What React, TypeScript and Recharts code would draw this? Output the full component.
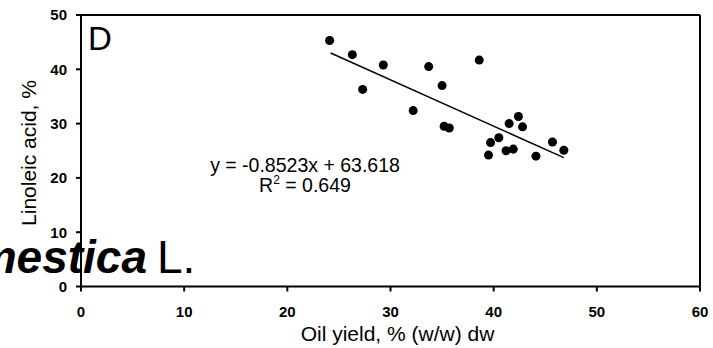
import { ScatterChart, Scatter, XAxis, YAxis, ReferenceLine, Customized } from 'recharts'

// oil yield (x) vs linoleic acid (y)
const oilYield = [24.1, 26.3, 29.3, 27.3, 33.7, 35.0, 32.2, 35.2, 35.7, 38.6, 42.4, 41.5, 42.8, 40.5, 39.7, 39.5, 41.2, 41.9, 44.1, 45.7, 46.8]
const linoleic = [45.3, 42.7, 40.8, 36.3, 40.5, 37.0, 32.4, 29.5, 29.2, 41.7, 31.3, 30.0, 29.4, 27.4, 26.5, 24.2, 25.0, 25.3, 24.0, 26.6, 25.1]

const xTicks = [0, 10, 20, 30, 40, 50, 60]
const yTicks = [0, 10, 20, 30, 40, 50]

const slope = -0.8523
const intercept = 63.618
const fitRange = [24.2, 46.8]

const points = oilYield.map((x, i) => ({ x, y: linoleic[i] }))
const fitLine = fitRange.map((x) => ({ x, y: slope * x + intercept }))

const font = "'Liberation Sans', Arial, sans-serif"
const tickStyle = { fill: '#000', fontSize: 15, fontWeight: 'bold', fontFamily: font }

function Annotations() {
  return (
    <g fontFamily={font} fill="#000">
      <text x={88} y={49.5} fontSize={33}>D</text>
      <text x={305} y={171.7} fontSize={19.5} textAnchor="middle">y = -0.8523x + 63.618</text>
      <text x={305} y={191.7} fontSize={19.5} textAnchor="middle">
        R<tspan dy={-8} fontSize={12}>2</tspan>
        <tspan dy={8}> = 0.649</tspan>
      </text>
      <text x={397.5} y={340.7} fontSize={21} textAnchor="middle">Oil yield, % (w/w) dw</text>
      <text
        transform="translate(36,153) rotate(-90)"
        fontSize={21}
        textAnchor="middle"
      >
        Linoleic acid, %
      </text>
      <text x={147} y={272.7} fontSize={46} fontWeight="bold" fontStyle="italic" textAnchor="end">
        Malus domestica
      </text>
      <text x={157} y={272.7} fontSize={46}>L.</text>
    </g>
  )
}

export default function App() {
  return (
    <div style={{ width: 713, height: 348, background: '#fff' }}>
      <style>{'body{margin:0}'}</style>
      <ScatterChart width={713} height={348} margin={{ top: 15, right: 13, left: 0, bottom: 0 }}>
        <XAxis
          type="number"
          dataKey="x"
          domain={[0, 60]}
          ticks={xTicks}
          height={61.5}
          axisLine={{ stroke: '#000', strokeWidth: 2 }}
          tickLine={{ stroke: '#000', strokeWidth: 2 }}
          tickSize={5}
          tickMargin={14.5}
          tick={tickStyle}
        />
        <YAxis
          type="number"
          dataKey="y"
          domain={[0, 50]}
          ticks={yTicks}
          width={81}
          axisLine={{ stroke: '#000', strokeWidth: 2 }}
          tickLine={{ stroke: '#000', strokeWidth: 2 }}
          tickSize={5}
          tickMargin={9}
          tick={tickStyle}
        />
        <ReferenceLine y={50} stroke="#000" strokeWidth={2} />
        <ReferenceLine x={60} stroke="#000" strokeWidth={2} />
        <ReferenceLine
          segment={[fitLine[0], fitLine[1]]}
          stroke="#000"
          strokeWidth={1.5}
        />
        <Scatter data={points} fill="#000" isAnimationActive={false} />
        <Customized component={Annotations} />
      </ScatterChart>
    </div>
  )
}
